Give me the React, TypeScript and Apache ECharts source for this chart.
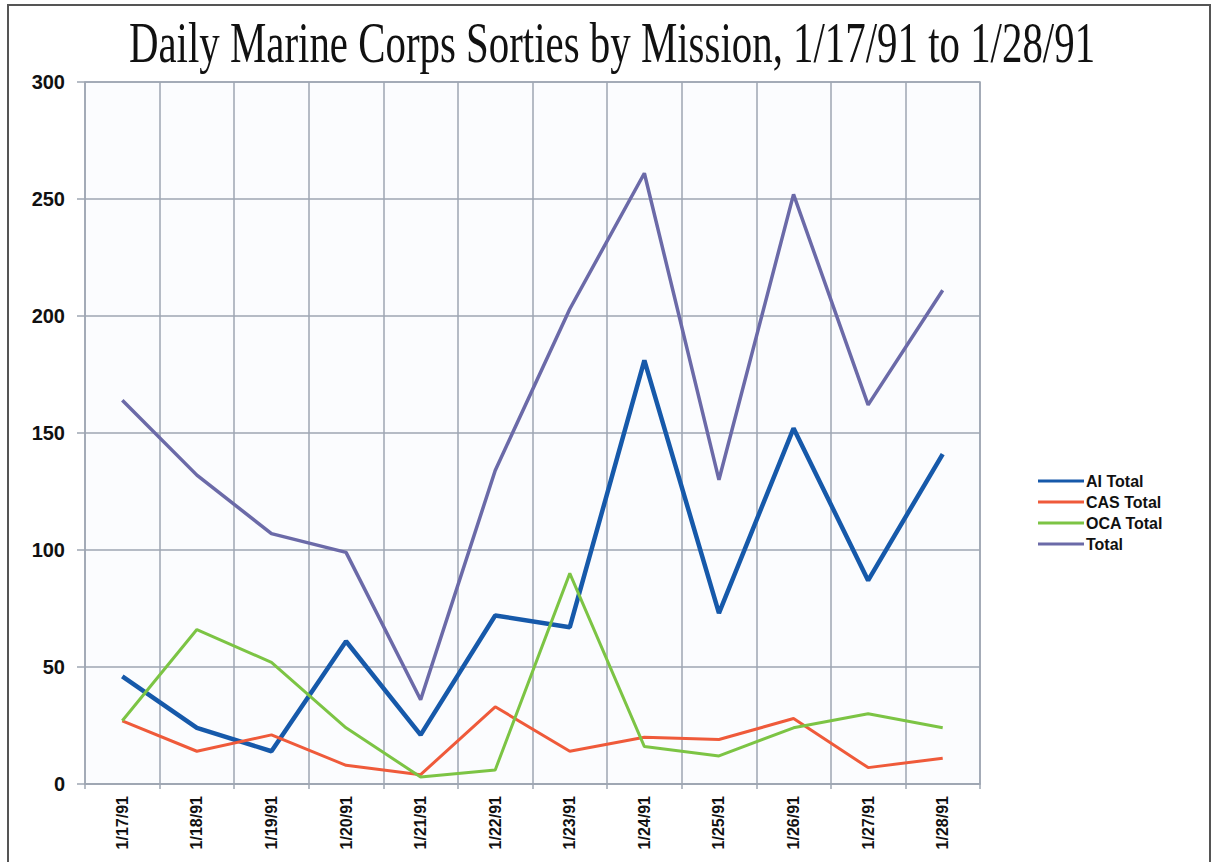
import React, { useEffect, useRef } from "react";
import * as echarts from "echarts";

const categories = ["1/17/91", "1/18/91", "1/19/91", "1/20/91", "1/21/91", "1/22/91", "1/23/91", "1/24/91", "1/25/91", "1/26/91", "1/27/91", "1/28/91"];
const aiTotal = [46, 24, 14, 61, 21, 72, 67, 181, 73, 152, 87, 141];
const casTotal = [27, 14, 21, 8, 4, 33, 14, 20, 19, 28, 7, 11];
const ocaTotal = [27, 66, 52, 24, 3, 6, 90, 16, 12, 24, 30, 24];
const total = [164, 132, 107, 99, 36, 134, 203, 261, 130, 252, 162, 211];
const titleText = "Daily Marine Corps Sorties by Mission, 1/17/91 to 1/28/91";

export default function App() {
  const ref = useRef<HTMLDivElement>(null);
  useEffect(() => {
    if (!ref.current) return;
    const chart = echarts.init(ref.current, undefined, { renderer: "svg" });
    const gridColor = "#9ea6b2";
    const sans = '"Liberation Sans", Arial, sans-serif';
    const mk = (name: string, data: number[], color: string, width: number) => ({
      name,
      type: "line",
      data,
      symbol: "none",
      showSymbol: false,
      lineStyle: { color, width },
      itemStyle: { color },
      z: 3,
    });
    chart.setOption({
      animation: false,
      backgroundColor: "#ffffff",
      graphic: [
        {
          type: "rect",
          shape: { x: 8, y: 5, width: 1202, height: 900 },
          style: { fill: "none", stroke: "#555", lineWidth: 2 },
          silent: true,
        },
        {
          type: "text",
          x: 612,
          y: 42,
          scaleX: 0.705,
          style: {
            text: titleText,
            font: '58px "Liberation Serif", "Times New Roman", serif',
            fill: "#111",
            textAlign: "center",
            textVerticalAlign: "middle",
          },
        },
      ],
      legend: {
        orient: "vertical",
        left: 1033,
        top: 468,
        icon: "rect",
        itemWidth: 46,
        itemHeight: 3,
        itemGap: 5,
        textStyle: { fontFamily: sans, fontWeight: "bold", fontSize: 16, color: "#111", padding: [0, 0, 0, -3] },
        data: ["AI Total", "CAS Total", "OCA Total", "Total"],
      },
      grid: {
        left: 85,
        right: 234,
        top: 82,
        bottom: 78,
        show: true,
        backgroundColor: "#fbfcfe",
        borderColor: gridColor,
        borderWidth: 1.5,
      },
      xAxis: {
        type: "category",
        data: categories,
        boundaryGap: true,
        axisLine: { show: true, lineStyle: { color: gridColor, width: 1.5 } },
        axisTick: { show: true, length: 5, lineStyle: { color: gridColor, width: 1.5 } },
        splitLine: { show: true, lineStyle: { color: gridColor, width: 1.5 } },
        axisLabel: {
          rotate: 90,
          margin: 12,
          fontFamily: sans,
          fontWeight: "bold",
          fontSize: 16,
          color: "#111",
          interval: 0,
        },
      },
      yAxis: {
        type: "value",
        min: 0,
        max: 300,
        interval: 50,
        axisLine: { show: false },
        axisTick: { show: true, length: 8, lineStyle: { color: gridColor, width: 1.5 } },
        splitLine: { show: true, lineStyle: { color: gridColor, width: 1.5 } },
        axisLabel: {
          margin: 20,
          fontFamily: sans,
          fontWeight: "bold",
          fontSize: 20,
          color: "#111",
        },
      },
      series: [
        mk("AI Total", aiTotal, "#1659aa", 4.5),
        mk("CAS Total", casTotal, "#ef5a3a", 3),
        mk("OCA Total", ocaTotal, "#7cc444", 3),
        mk("Total", total, "#6b6aa8", 3.5),
      ],
    });
    return () => chart.dispose();
  }, []);
  return (
    <div
      ref={ref}
      style={{ position: "fixed", left: 0, top: 0, width: 1214, height: 862 }}
    />
  );
}
